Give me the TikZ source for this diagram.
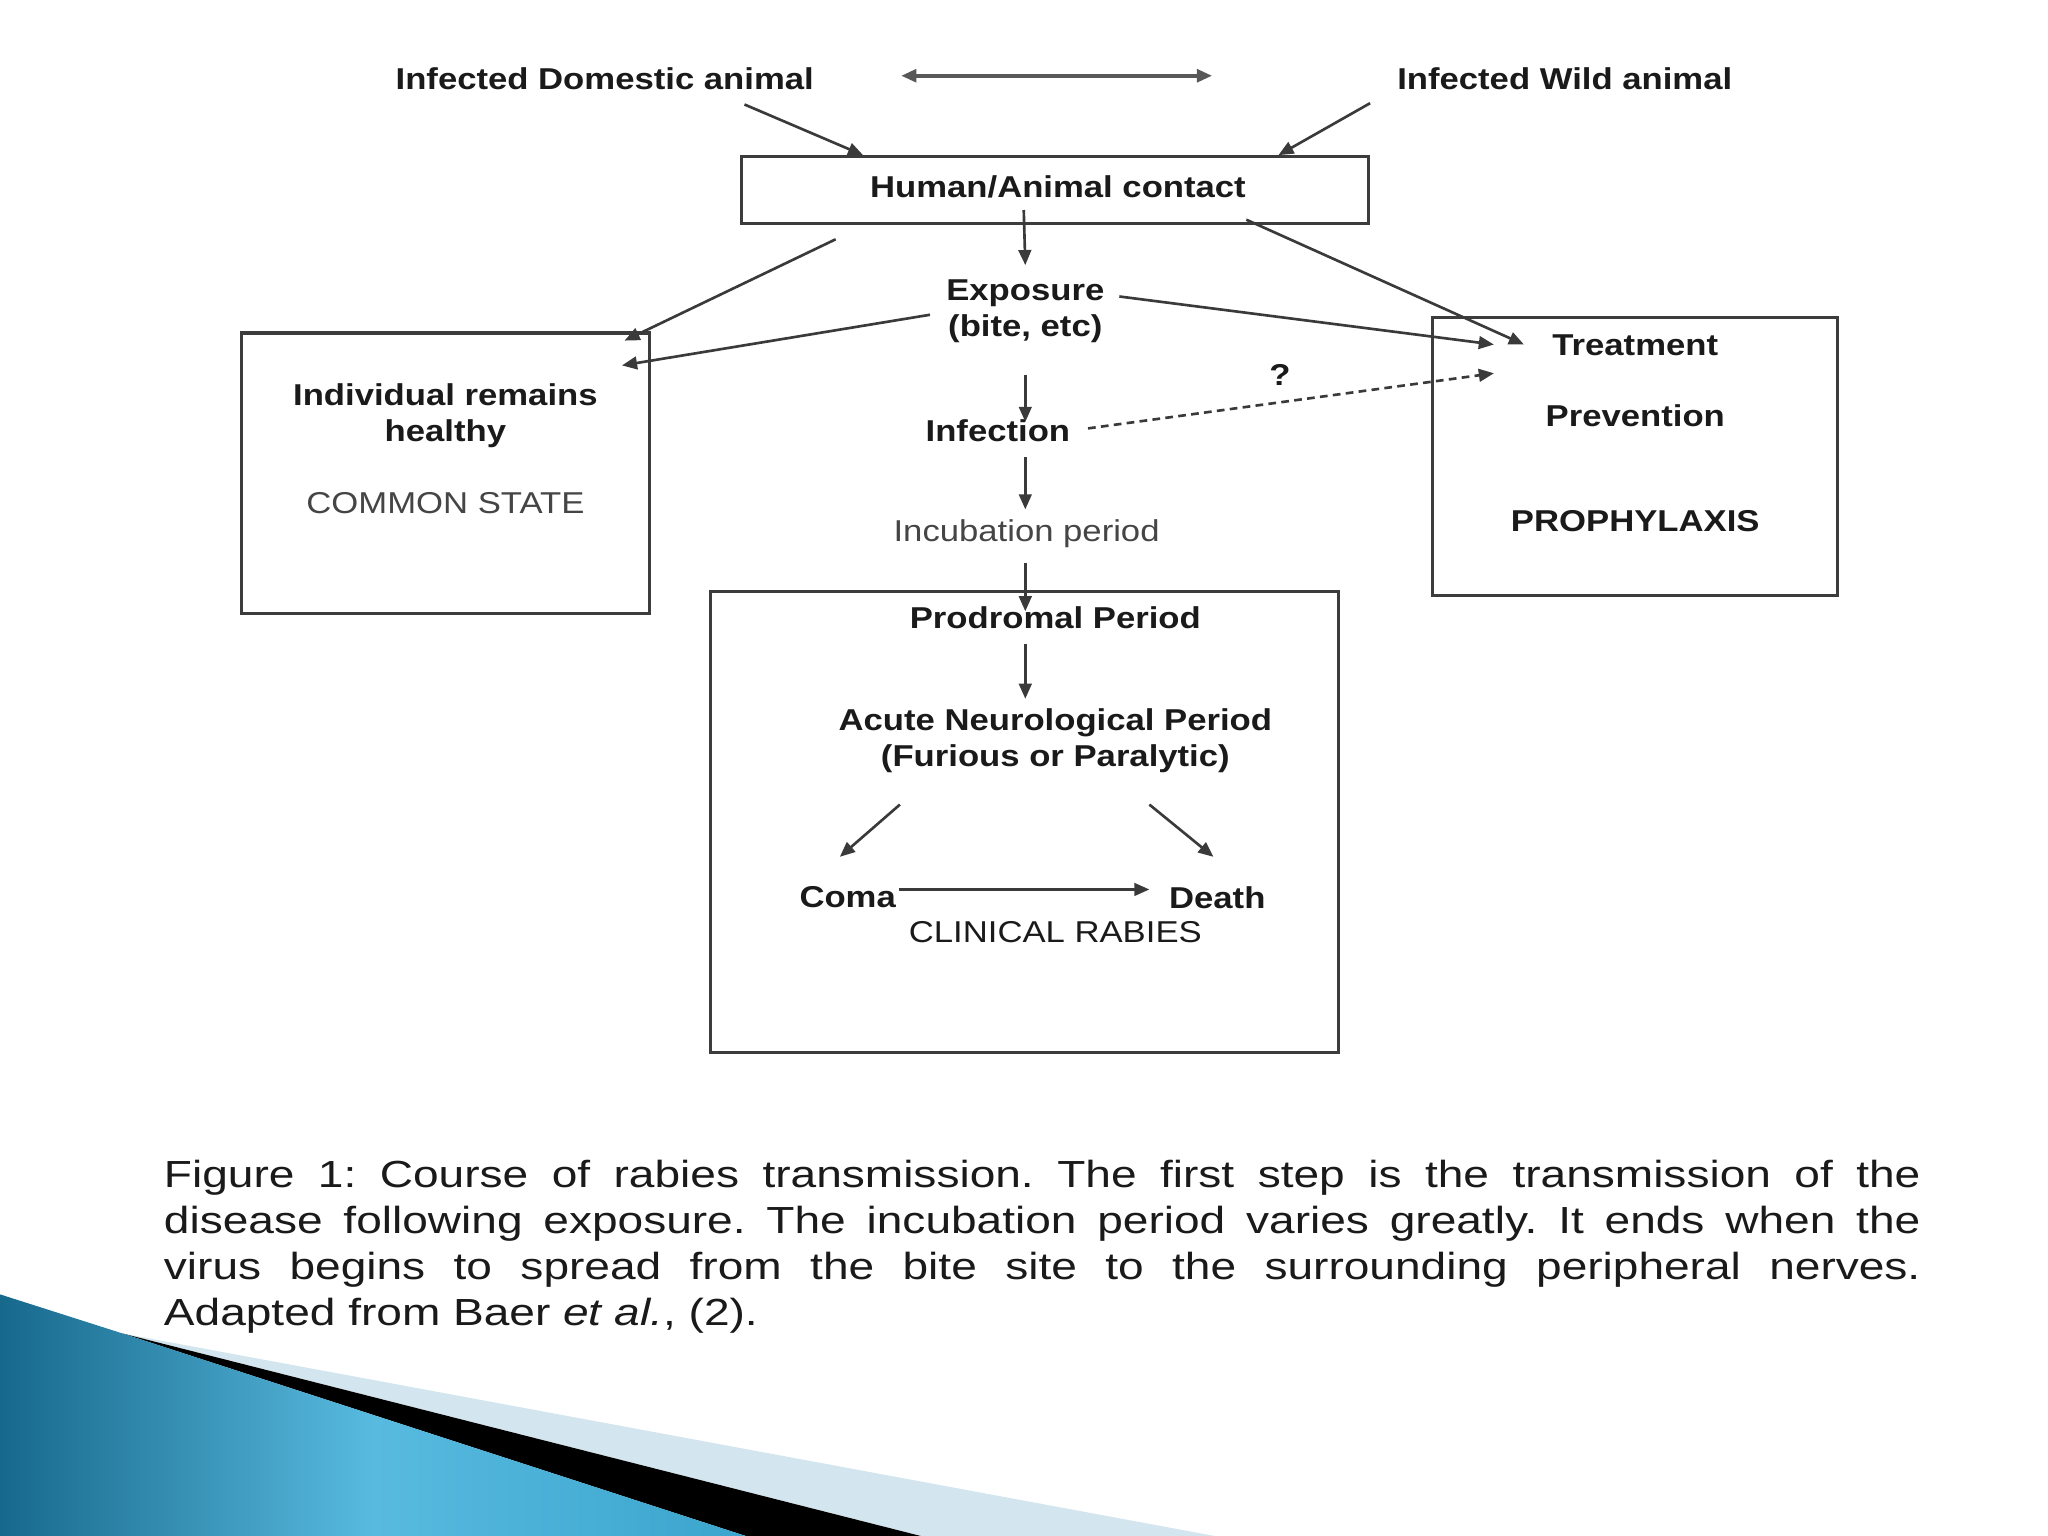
\documentclass[tikz,border=0pt]{standalone}
\usepackage{fontspec}
\setmainfont{Liberation Sans}
\newfontfamily\dfont[FakeStretch=1.15]{Liberation Sans}
\newfontfamily\cfont[FakeStretch=1.22]{Liberation Sans}
\usetikzlibrary{arrows.meta,calc}
\definecolor{ink}{HTML}{1A1A1A}
\definecolor{greyt}{HTML}{454545}
\definecolor{linec}{HTML}{3A3A3A}
\definecolor{boxc}{HTML}{3C3C3C}
\definecolor{lightblue}{HTML}{D3E5EE}
\definecolor{bluedark}{HTML}{17698C}
\definecolor{bluemid}{HTML}{58BADF}
\definecolor{blueright}{HTML}{3BA5CD}
\begin{document}
\begin{tikzpicture}[x=0.0130612cm,y=-0.0130612cm,
  lbl/.style={font=\dfont\fontsize{8.58}{10.2}\selectfont\bfseries, text=ink, inner sep=0pt, align=center},
  reg/.style={font=\dfont\fontsize{8.58}{10.2}\selectfont, text=greyt, inner sep=0pt, align=center},
  boxn/.style={draw=boxc, line width=0.9pt, inner sep=0pt},
  arr/.style={draw=linec, line width=0.75pt, -{Triangle[length=4.3pt,width=3.6pt]}},
  dasharr/.style={arr, dash pattern=on 2.2pt off 1.5pt},
  dblarr/.style={draw=linec!85, line width=1pt, {Triangle[length=4.3pt,width=3.6pt]}-{Triangle[length=4.3pt,width=3.6pt]}}
]
\useasboundingbox (0,0) rectangle (1568,1176);
\fill[white] (0,0) rectangle (1568,1176);

% decoration bottom-left
\fill[lightblue] (94,1021) -- (930,1176) -- (705,1176) -- cycle;
\fill[black] (94,1021) -- (705,1176) -- (571,1176) -- cycle;
\shade[left color=bluedark, right color=blueright, middle color=bluemid]
  (0,991) -- (94,1021) -- (571,1176) -- (0,1176) -- cycle;

% boxes
\node[boxn, minimum width=6.269cm, minimum height=0.666cm] (hac) at (808,145.5) {};
\node[lbl] (hact) at (810,143) {Human/Animal contact};
\node[boxn, minimum width=4.075cm, minimum height=2.808cm] (lbox) at (341,362.5) {};
\node[boxn, minimum width=4.049cm, minimum height=2.782cm] (rbox) at (1252,349.5) {};
\node[boxn, minimum width=6.282cm, minimum height=4.611cm] (cbox) at (784.5,629.5) {};

% labels
\node[lbl] (dom) at (463,60) {Infected Domestic animal};
\node[lbl] (wild) at (1198,60) {Infected Wild animal};
\node[lbl] (expo) at (785,238) {Exposure\\(bite, etc)};
\node[lbl] (healthy) at (341,318) {Individual remains\\healthy};
\node[reg] (common) at (341,385) {COMMON STATE};
\node[lbl] (treat) at (1252,264) {Treatment};
\node[lbl] (prev) at (1252,318) {Prevention};
\node[lbl] (proph) at (1252,399) {PROPHYLAXIS};
\node[lbl] (infect) at (764,330) {Infection};
\node[reg] (incub) at (786,409) {Incubation period};
\node[lbl] (prod) at (808,473) {Prodromal Period};
\node[lbl] (acute) at (808,567) {Acute Neurological Period\\(Furious or Paralytic)};
\node[lbl] (coma) at (649,687) {Coma};
\node[lbl] (death) at (932,687) {Death};
\node[reg, text=ink] (clin) at (808,714) {CLINICAL RABIES};
\node[lbl] (qm) at (980,287) {?};

% connectors
\draw[dblarr] ($(dom.center)+(227,-2)$) -- ($(wild.center)+(-270,-2)$);
\draw[arr] ($(dom.center)+(107,20)$) -- ($(hac.north west)+(94,0)$);
\draw[arr] ($(wild.center)+(-149,19)$) -- ($(hac.north west)+(412,0)$);
\draw[arr] ($(hac.north west)+(217,42)$) -- ($(expo.center)+(0,-35)$);
\draw[arr] ($(hac.south west)+(73,11)$) -- ($(lbox.north east)+(-20,7)$);
\draw[arr] ($(expo.center)+(-73,3)$) -- ($(lbox.north east)+(-22,26)$);
\draw[arr] ($(expo.center)+(72,-11)$) -- ($(rbox.north west)+(48,22)$);
\draw[arr] ($(hac.south east)+(-95,-4)$) -- ($(rbox.north west)+(71,22)$);
\draw[arr] ($(expo.center)+(0,49)$) -- ($(infect.center)+(21,-7)$);
\draw[arr] ($(infect.center)+(21,20)$) -- ($(incub.center)+(-1,-19)$);
\draw[arr] ($(incub.center)+(-1,22)$) -- ($(prod.center)+(-23,-5)$);
\draw[arr] ($(prod.center)+(-23,20)$) -- ($(acute.center)+(-23,-32)$);
\draw[arr] ($(acute.center)+(-119,49)$) -- ($(coma.center)+(-6,-31)$);
\draw[arr] ($(acute.center)+(72,49)$) -- ($(death.center)+(-3,-31)$);
\draw[arr] ($(coma.center)+(39,-6)$) -- ($(death.center)+(-52,-6)$);
\draw[dasharr] ($(infect.center)+(69,-2)$) -- ($(rbox.north west)+(48,44)$);

% caption
\node[anchor=base west, inner sep=0pt, text=ink, font=\cfont\fontsize{10.74}{13.12}\selectfont] (cap) at (125,909)
{\parbox[t]{499.8pt}{\frenchspacing\tolerance=10000\hbadness=10000
Figure 1: Course of rabies transmission. The first step is the transmission of the\linebreak
disease following exposure. The incubation period varies greatly. It ends when the\linebreak
virus begins to spread from the bite site to the surrounding peripheral nerves.\linebreak
Adapted from Baer \textit{et al.}, (2).}};
\end{tikzpicture}
\end{document}
